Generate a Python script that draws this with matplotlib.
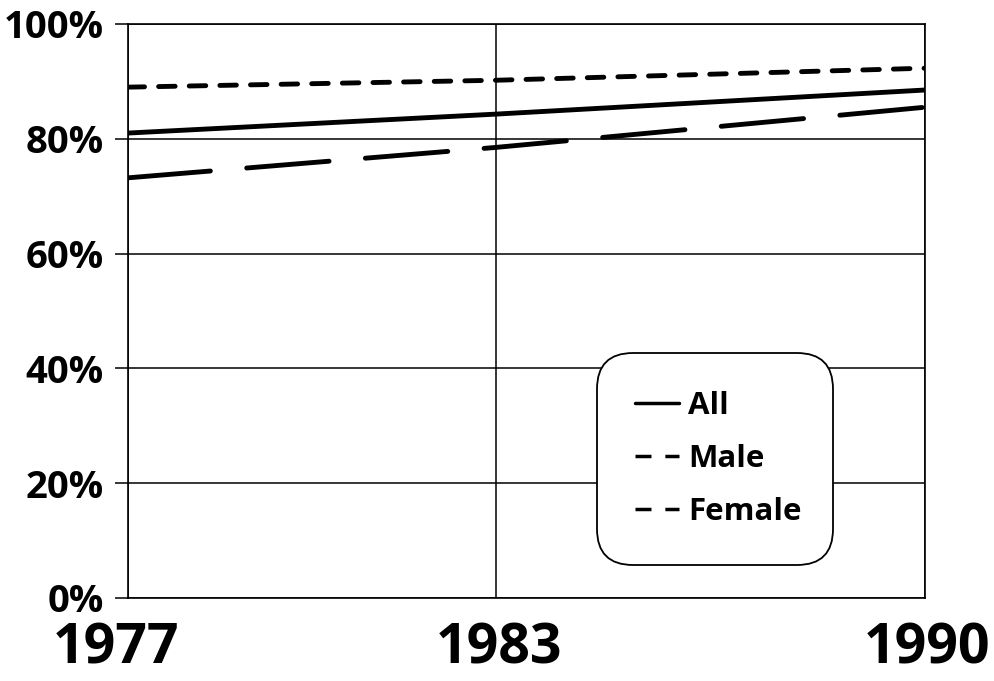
import matplotlib
matplotlib.use("Agg")
import matplotlib.pyplot as plt
from matplotlib.lines import Line2D
from matplotlib.ticker import FuncFormatter
from matplotlib.transforms import ScaledTranslation

years = [1977, 1983, 1990]
all_vals = [81.0, 84.3, 88.5]
male_vals = [89.0, 90.2, 92.3]
female_vals = [73.2, 78.5, 85.5]
series_labels = ["All", "Male", "Female"]
y_ticks = [0, 20, 40, 60, 80, 100]

plt.rcParams['font.family'] = ['Open Sans', 'DejaVu Sans']
plt.rcParams['font.weight'] = 'bold'

fig = plt.figure(figsize=(9.94, 6.81), dpi=100)
ax = fig.add_axes([128/994, 1-598/681, (925-128)/994, (598-24)/681])

lw = 3.5
ax.plot(years, all_vals, color='black', lw=lw, solid_capstyle='round', zorder=3)
ax.plot(years, male_vals, color='black', lw=lw, dashes=(3.4, 2.9), dash_capstyle='round', zorder=3)
ax.plot(years, female_vals, color='black', lw=lw, dashes=(17, 7.5), dash_capstyle='round', zorder=3)

ax.set_xlim(1977, 1990)
ax.set_ylim(0, 100)
ax.set_yticks(y_ticks)
ax.yaxis.set_major_formatter(FuncFormatter(lambda v, p: f"{int(v)}%"))
ax.set_xticks(years)
ax.set_xticklabels([str(y) for y in years])

for s in ax.spines.values():
    s.set_linewidth(1.2)
    s.set_color('black')

ax.grid(True, color='black', lw=1.1)
ax.set_axisbelow(True)

ax.tick_params(axis='y', direction='out', length=9.5, width=1.1, pad=8, labelsize=27.5)
ax.tick_params(axis='x', length=0, pad=17, labelsize=40)
x_offsets_px = [-12, 3, 2]
for t, dx in zip(ax.get_xticklabels(), x_offsets_px):
    t.set_fontweight('bold')
    t.set_transform(t.get_transform() + ScaledTranslation(dx / 100, 0, fig.dpi_scale_trans))
for t in ax.get_yticklabels():
    t.set_fontweight('bold')

handles = [
    Line2D([], [], color='black', lw=2.5, solid_capstyle='round'),
    Line2D([], [], color='black', lw=2.5, dashes=(4.6, 4.0)),
    Line2D([], [], color='black', lw=2.5, dashes=(4.6, 4.0)),
]
leg = ax.legend(handles, series_labels, loc='lower left',
                bbox_to_anchor=((597-128)/797, (598-565)/574, 236/797, 212/574),
                mode='expand', prop={'weight': 'bold', 'size': 22.5},
                handlelength=1.4, handletextpad=0.3, labelspacing=0.73,
                borderpad=1.22, borderaxespad=0, frameon=True, fancybox=True,
                framealpha=1, edgecolor='black')
frame = leg.get_frame()
frame.set_linewidth(1.3)
frame.set_boxstyle("round,pad=0,rounding_size=1.15")

fig.savefig("out.png", dpi=100)
